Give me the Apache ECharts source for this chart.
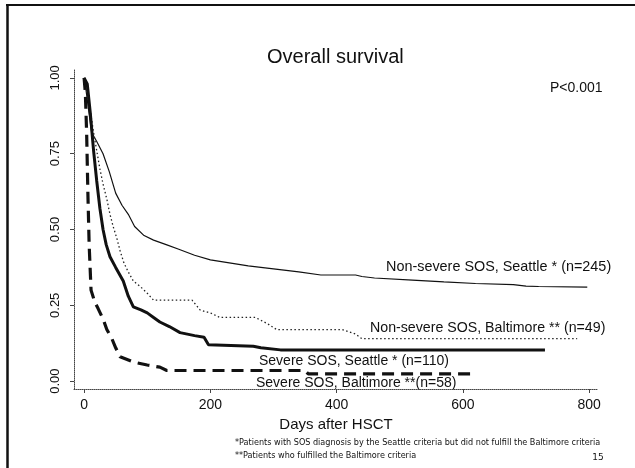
<!DOCTYPE html>
<html>
<head>
<meta charset="utf-8">
<title>Overall survival</title>
<script src="https://cdn.jsdelivr.net/npm/echarts@6/dist/echarts.min.js"></script>
<style>
  html, body { margin: 0; padding: 0; background: #fff; }
  #chart { width: 635px; height: 468px; }
</style>
</head>
<body>
<div id="chart"></div>
<script>
// Kaplan-Meier curves (days, survival)
const nsSeattleDays = [0, 3, 8, 12, 20, 30, 40, 50, 60, 70, 80, 95, 110, 130, 150, 175, 200, 230, 260, 300, 340, 375, 430, 440, 460, 520, 570, 620, 680, 700, 720, 797];
const nsSeattleSurv = [1, 0.96, 0.88, 0.82, 0.79, 0.75, 0.69, 0.62, 0.58, 0.55, 0.51, 0.48, 0.465, 0.45, 0.435, 0.415, 0.40, 0.39, 0.38, 0.37, 0.36, 0.35, 0.35, 0.345, 0.34, 0.333, 0.327, 0.322, 0.318, 0.313, 0.312, 0.31];

const nsBaltDays = [0, 5, 10, 15, 20, 25, 30, 36, 41, 46, 52, 57, 63, 70, 78, 90, 100, 110, 171, 184, 200, 215, 271, 290, 305, 409, 430, 440, 781];
const nsBaltSurv = [1, 0.95, 0.89, 0.82, 0.76, 0.70, 0.65, 0.60, 0.55, 0.51, 0.47, 0.43, 0.39, 0.36, 0.33, 0.31, 0.29, 0.267, 0.267, 0.234, 0.225, 0.21, 0.21, 0.19, 0.17, 0.17, 0.155, 0.14, 0.14];

const sevSeattleDays = [0, 5, 10, 15, 20, 25, 30, 35, 41, 50, 62, 70, 78, 90, 100, 110, 120, 135, 152, 175, 190, 197, 268, 280, 311, 730];
const sevSeattleSurv = [1, 0.98, 0.88, 0.76, 0.66, 0.57, 0.50, 0.45, 0.41, 0.375, 0.33, 0.28, 0.245, 0.235, 0.225, 0.21, 0.195, 0.18, 0.16, 0.15, 0.145, 0.12, 0.115, 0.11, 0.103, 0.103];

const sevBaltDays = [0, 2, 4, 6, 8, 11, 17, 22, 30, 36, 44, 50, 57, 78, 100, 120, 131, 350, 355, 612];
const sevBaltSurv = [1, 0.95, 0.82, 0.62, 0.45, 0.30, 0.26, 0.24, 0.205, 0.17, 0.14, 0.11, 0.08, 0.063, 0.053, 0.046, 0.035, 0.035, 0.024, 0.024];

const xTicks = [0, 200, 400, 600, 800];
const yTicks = [0, 0.25, 0.5, 0.75, 1];

const FONT = '"Liberation Sans", Arial, Helvetica, sans-serif';
const NOTE_FONT = '"DejaVu Sans", Verdana, sans-serif';

function zip(xs, ys) {
  return xs.map((x, i) => [x, ys[i]]);
}

let myChart = echarts.init(document.getElementById('chart'));

let option = {
  backgroundColor: '#fff',
  animation: false,
  title: {
    text: 'Overall survival',
    left: 267,
    top: 47,
    padding: 0,
    textStyle: { fontFamily: FONT, fontSize: 20, fontWeight: 'normal', color: '#111' }
  },
  grid: { left: 74, right: 37, top: 70, bottom: 79 },
  xAxis: {
    type: 'value',
    min: -16,
    max: 814,
    name: 'Days after HSCT',
    nameLocation: 'middle',
    nameGap: 26,
    nameTextStyle: { fontFamily: FONT, fontSize: 15, color: '#111', verticalAlign: 'top' },
    splitLine: { show: false },
    axisLine: { show: true, onZero: false, lineStyle: { color: '#444', width: 1, type: [1, 1] } },
    axisTick: { show: true, customValues: xTicks, length: 4, lineStyle: { color: '#444' } },
    axisLabel: { customValues: xTicks, margin: 9, fontFamily: FONT, fontSize: 14, color: '#111' }
  },
  yAxis: {
    type: 'value',
    min: -0.026,
    max: 1.026,
    splitLine: { show: false },
    axisLine: { show: true, onZero: false, lineStyle: { color: '#444', width: 1, type: [1, 1] } },
    axisTick: { show: true, customValues: yTicks, length: 4, lineStyle: { color: '#444' } },
    axisLabel: {
      customValues: yTicks,
      rotate: 90,
      margin: 12,
      fontFamily: FONT,
      fontSize: 13,
      color: '#111',
      formatter: v => v.toFixed(2)
    }
  },
  series: [
    {
      name: 'Non-severe SOS, Seattle',
      type: 'line',
      symbol: 'none',
      data: zip(nsSeattleDays, nsSeattleSurv),
      lineStyle: { color: '#111', width: 1.2 }
    },
    {
      name: 'Non-severe SOS, Baltimore',
      type: 'line',
      symbol: 'none',
      data: zip(nsBaltDays, nsBaltSurv),
      lineStyle: { color: '#222', width: 1.3, type: [1.5, 2.5] }
    },
    {
      name: 'Severe SOS, Seattle',
      type: 'line',
      symbol: 'none',
      data: zip(sevSeattleDays, sevSeattleSurv),
      lineStyle: { color: '#111', width: 3 }
    },
    {
      name: 'Severe SOS, Baltimore',
      type: 'line',
      symbol: 'none',
      data: zip(sevBaltDays, sevBaltSurv),
      lineStyle: { color: '#111', width: 3.2, type: [12, 7] }
    }
  ],
  graphic: [
    // slide frame
    { type: 'line', shape: { x1: 7.5, y1: 4, x2: 7.5, y2: 468 }, style: { stroke: '#111', lineWidth: 2.5 } },
    { type: 'line', shape: { x1: 6, y1: 5, x2: 635, y2: 5 }, style: { stroke: '#111', lineWidth: 2 } },
    { type: 'text', x: 550, y: 88, style: { text: 'P<0.001', font: '14px ' + FONT, fill: '#111', verticalAlign: 'middle' } },
    // curve labels
    { type: 'text', x: 386, y: 267, style: { text: 'Non-severe SOS, Seattle * (n=245)', font: '14.4px ' + FONT, fill: '#111', verticalAlign: 'middle' } },
    { type: 'text', x: 370, y: 328, style: { text: 'Non-severe SOS, Baltimore ** (n=49)', font: '14.2px ' + FONT, fill: '#111', verticalAlign: 'middle' } },
    { type: 'text', x: 259, y: 361, style: { text: 'Severe SOS, Seattle * (n=110)', font: '14px ' + FONT, fill: '#111', verticalAlign: 'middle' } },
    { type: 'text', x: 256, y: 383, style: { text: 'Severe SOS, Baltimore **(n=58)', font: '14px ' + FONT, fill: '#111', verticalAlign: 'middle' } },
    // footnotes
    { type: 'text', x: 235, y: 443, style: { text: '*Patients with SOS diagnosis by the Seattle criteria but did not fulfill the Baltimore criteria', font: '8.1px ' + NOTE_FONT, fill: '#111', verticalAlign: 'middle' } },
    { type: 'text', x: 235, y: 456, style: { text: '**Patients who fulfilled the Baltimore criteria', font: '8.1px ' + NOTE_FONT, fill: '#111', verticalAlign: 'middle' } },
    { type: 'text', x: 598, y: 458, style: { text: '15', font: '9px ' + NOTE_FONT, fill: '#111', align: 'center', verticalAlign: 'middle' } }
  ]
};

myChart.setOption(option, true);
</script>
</body>
</html>
